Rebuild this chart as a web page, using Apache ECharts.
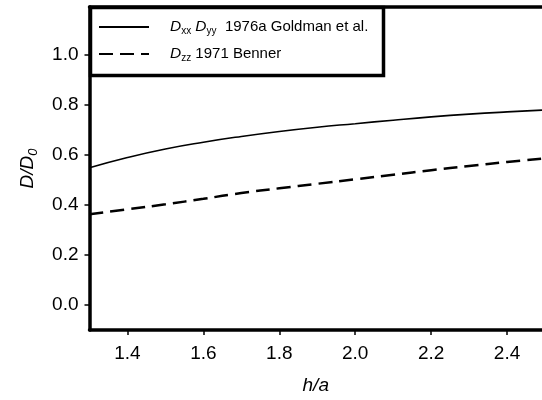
<!DOCTYPE html>
<html>
<head>
<meta charset="utf-8">
<script src="https://cdn.jsdelivr.net/npm/echarts@6/dist/echarts.min.js"></script>
<style>
html,body{margin:0;padding:0;background:#fff;}
#c{width:542px;height:400px;}
</style>
</head>
<body>
<div id="c"></div>
<script>
// Data
var hOverA = [1.3, 1.4, 1.5, 1.6, 1.7, 1.8, 1.9, 2.0, 2.1, 2.2, 2.3, 2.4, 2.492];
var goldman = [0.548, 0.589, 0.623, 0.650, 0.673, 0.693, 0.710, 0.724, 0.738, 0.751, 0.762, 0.771, 0.778];
var benner  = [0.362, 0.382, 0.402, 0.424, 0.447, 0.466, 0.484, 0.502, 0.520, 0.538, 0.555, 0.571, 0.584];
var xTicks = [1.4, 1.6, 1.8, 2.0, 2.2, 2.4];
var yTicks = [0.0, 0.2, 0.4, 0.6, 0.8, 1.0];
var seriesNames = ['Goldman', 'Benner'];

function pairs(xs, ys){ return xs.map(function(x,i){ return [x, ys[i]]; }); }

var chart = echarts.init(document.getElementById('c'), null, {renderer:'canvas'});
var font = 'Liberation Sans, Arial, sans-serif';
var option = {
  backgroundColor: '#fff',
  animation: false,
  grid: {left: 89.5, right: 0, top: 7, bottom: 65, containLabel: false},
  xAxis: [{
    type: 'value', min: 1.3, max: 2.492,
    name: 'h/a', nameLocation: 'middle', nameGap: 46,
    nameTextStyle: {fontFamily: font, fontSize: 19, fontStyle: 'italic', color: '#000'},
    axisLine: {onZero: false, lineStyle: {color: '#000', width: 3.5}},
    axisTick: {show: true, customValues: xTicks, length: 5, lineStyle: {color: '#000', width: 1.5}},
    axisLabel: {customValues: xTicks, margin: 14, fontFamily: font, fontSize: 19, color: '#000',
      formatter: function(v){ return v.toFixed(1); }},
    splitLine: {show: false}
  }, {
    type: 'value', min: 1.3, max: 2.492, position: 'top',
    axisLine: {show: true, onZero: false, lineStyle: {color: '#000', width: 3.5}},
    axisTick: {show: false}, axisLabel: {show: false}, splitLine: {show: false}
  }],
  yAxis: {
    type: 'value', min: -0.1, max: 1.19,
    name: '{i|D/D}{s|0}', nameLocation: 'middle', nameRotate: 90, nameGap: 50,
    nameTextStyle: {rich: {
      i: {fontFamily: font, fontSize: 19, fontStyle: 'italic', color: '#000'},
      s: {fontFamily: font, fontSize: 13, fontStyle: 'italic', color: '#000', padding: [10, 0, 0, 0]}
    }},
    axisLine: {show: true, onZero: false, lineStyle: {color: '#000', width: 3.5}},
    axisTick: {show: true, customValues: yTicks, length: 5, lineStyle: {color: '#000', width: 1.5}},
    axisLabel: {customValues: yTicks, margin: 11, fontFamily: font, fontSize: 19, color: '#000',
      formatter: function(v){ return v.toFixed(1); }},
    splitLine: {show: false}
  },
  legend: {
    orient: 'vertical', left: 98, top: 19, itemWidth: 50, itemHeight: 12, itemGap: 10,
    padding: 0,
    data: seriesNames,
    itemStyle: {opacity: 0},
    formatter: function(n){
      if (n === 'Goldman') return '{i|D}{s|xx} {i|D}{s|yy}  1976a Goldman et al.';
      return '{i|D}{s|zz} 1971 Benner';
    },
    textStyle: {
      fontFamily: font, fontSize: 15, color: '#000', padding: [0, 0, 0, 16],
      rich: {
        i: {fontFamily: font, fontSize: 15.5, fontStyle: 'italic', color: '#000'},
        s: {fontFamily: font, fontSize: 10, color: '#000', padding: [8, 0, 0, 0]}
      }
    }
  },
  graphic: [{
    type: 'rect', left: 88, top: 5, z: 100, silent: true,
    shape: {width: 293, height: 68},
    style: {fill: 'none', stroke: '#000', lineWidth: 3.5}
  }],
  series: [{
    name: 'Goldman', type: 'line', symbol: 'none', smooth: true,
    data: pairs(hOverA, goldman),
    lineStyle: {color: '#000', width: 1.6, type: 'solid'},
    itemStyle: {color: '#000'}
  }, {
    name: 'Benner', type: 'line', symbol: 'none', smooth: true,
    data: pairs(hOverA, benner),
    lineStyle: {color: '#000', width: 2.5, type: [14, 7]},
    itemStyle: {color: '#000'}
  }]
};
chart.setOption(option);
</script>
</body>
</html>
